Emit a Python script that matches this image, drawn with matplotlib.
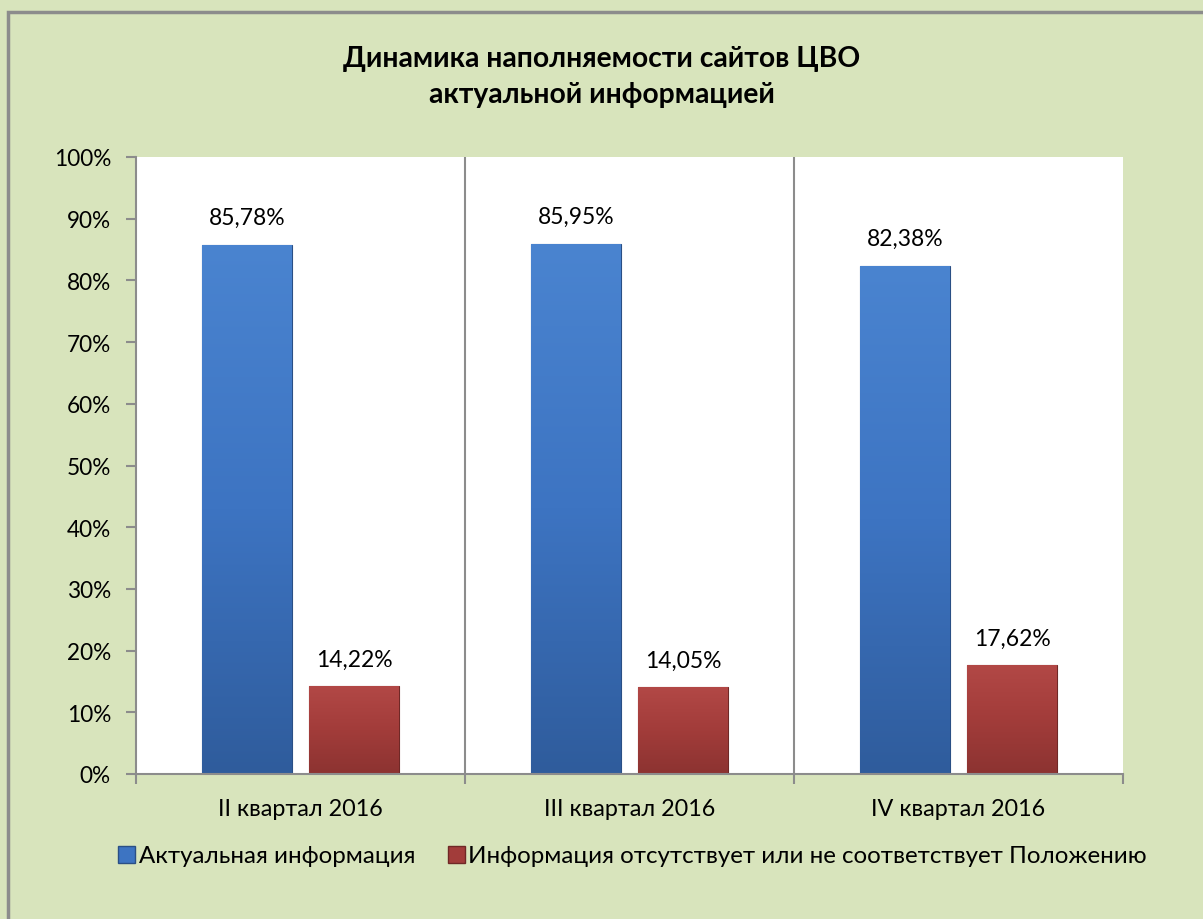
import matplotlib
import matplotlib.pyplot as plt
import numpy as np
from matplotlib.colors import LinearSegmentedColormap
from matplotlib.patches import Patch, Rectangle

matplotlib.use("Agg")

plt.rcParams["font.family"] = ["Lato", "Noto Sans", "DejaVu Sans"]

# data
quarters = ["II квартал 2016", "III квартал 2016", "IV квартал 2016"]
actual = [85.78, 85.95, 82.38]
missing = [14.22, 14.05, 17.62]
series_names = ["Актуальная информация",
                "Информация отсутствует или не соответствует Положению"]
title = "Динамика наполняемости сайтов ЦВО\nактуальной информацией"

BG = "#d8e4bc"
GRID = "#8c8c8c"
blue_grad = ["#2f5c9c", "#3d74c2", "#4a84d0"]
red_grad = ["#8c3331", "#a23c3a", "#b24846"]

fig = plt.figure(figsize=(12.03, 9.2), dpi=100, facecolor=BG)
# outer chart frame (only top/left visible in the reference)
fig.patches.append(Rectangle((8 / 1203, -0.1), 1.2, 1.1 - 13 / 920,
                             transform=fig.transFigure, fill=False,
                             edgecolor="#8c8c8c", linewidth=2.5))

ax = fig.add_axes([136 / 1203, 1 - 775 / 920, (1123 - 136) / 1203, (775 - 158) / 920])
ax.set_facecolor("white")

x = np.arange(len(quarters))
width = 0.273
offset = 0.163


def gradient_bars(bars, colors):
    cmap = LinearSegmentedColormap.from_list("g", colors)
    grad = np.linspace(0, 1, 256).reshape(-1, 1)
    for b in bars:
        x0, y0 = b.get_x(), b.get_y()
        w, h = b.get_width(), b.get_height()
        im = ax.imshow(grad, cmap=cmap, origin="lower", aspect="auto",
                       extent=(x0, x0 + w, y0, y0 + h), zorder=b.get_zorder())
        im.set_clip_path(b)


b1 = ax.bar(x - offset, actual, width, color=blue_grad[1], edgecolor="#2a4f85",
            linewidth=0.8, zorder=3)
b2 = ax.bar(x + offset, missing, width, color=red_grad[1], edgecolor="#6f2826",
            linewidth=0.8, zorder=3)
gradient_bars(b1, blue_grad)
gradient_bars(b2, red_grad)

for bars, vals in ((b1, actual), (b2, missing)):
    for b, v in zip(bars, vals):
        ax.annotate(f"{v:.2f}%".replace(".", ","),
                    (b.get_x() + b.get_width() / 2, v),
                    xytext=(0, 12), textcoords="offset points",
                    ha="center", va="bottom", fontsize=16.5, color="black")

ax.set_xlim(-0.5, len(quarters) - 0.5)
ax.set_ylim(0, 100)
ax.set_yticks(np.arange(0, 101, 10))
ax.set_yticklabels([f"{v}%" for v in range(0, 101, 10)])

ax.set_xticks(x)
ax.set_xticklabels(quarters)
ax.set_xticks(np.arange(-0.5, len(quarters)), minor=True)
ax.tick_params(axis="x", which="major", length=0, pad=17, labelsize=16.8)
ax.tick_params(axis="x", which="minor", length=7, width=1.5, color=GRID)
ax.tick_params(axis="y", length=7, width=1.5, color=GRID, pad=11, labelsize=16.3)

for xb in np.arange(0.5, len(quarters) - 0.5):
    ax.axvline(xb, color=GRID, linewidth=1.5, zorder=1)

for side in ("top", "right"):
    ax.spines[side].set_visible(False)
for side in ("left", "bottom"):
    ax.spines[side].set_color(GRID)
    ax.spines[side].set_linewidth(1.5)
ax.spines["bottom"].set_zorder(4)

fig.text(0.5, 1 - 77 / 920, title, ha="center", va="center",
         fontsize=20.3, fontweight="bold", linespacing=1.45)

handles = [Patch(facecolor=blue_grad[1], edgecolor="#2a4f85"),
           Patch(facecolor=red_grad[1], edgecolor="#6f2826")]
fig.legend(handles, series_names, loc="center", bbox_to_anchor=(0.5258, 1 - 857 / 920),
           ncol=2, frameon=False, fontsize=17.4, handlelength=0.7, handleheight=0.7,
           handletextpad=0.15, columnspacing=1.35)

fig.savefig("out.png", dpi=100, facecolor=BG)
plt.close(fig)
